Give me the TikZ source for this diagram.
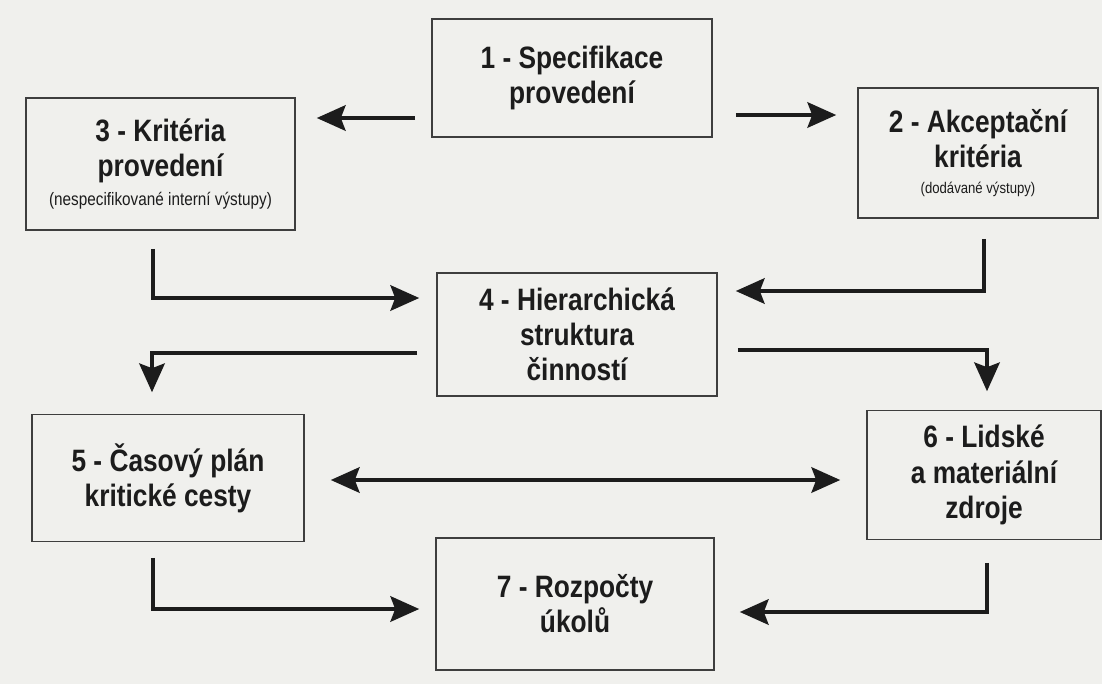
\documentclass[tikz,border=0pt]{standalone}
\usepackage{fontspec}
\setmainfont{Liberation Sans}[FakeStretch=0.85]
\usepackage{tikz}
\usetikzlibrary{calc}
\usetikzlibrary{arrows.meta, positioning}
\definecolor{paper}{RGB}{240,240,237}
\definecolor{ink}{RGB}{28,28,28}
\newcommand{\subnote}[2][11]{{\mdseries\fontsize{#1}{#1}\selectfont #2}}
\tikzset{>={Stealth[length=0.72cm,width=0.64cm,inset=0.12cm]}}
\tikzset{
  stage/.style={draw=ink!85, line width=1.1pt, fill=paper, text=ink, align=center,
    font=\bfseries\fontsize{22}{25}\selectfont, inner sep=2pt},
  flow/.style={->, draw=ink, line width=2.2pt}
}

\begin{document}
\begin{tikzpicture}[x=0.025cm,y=-0.025cm]
  \fill[paper] (0,0) rectangle (1102,684);
  \useasboundingbox (0,0) rectangle (1102,684);
  \node[stage, minimum width=7cm, minimum height=2.95cm] (n1) at (572,78)
    {1 - Specifikace\\provedení};
  \node[stage, minimum width=6cm, minimum height=3.25cm] (n2) at (978,153)
    {2 - Akceptační\\kritéria\\[-7pt]\subnote[11]{(dodávané výstupy)}};
  \node[stage, minimum width=6.725cm, minimum height=3.3cm] (n3) at (160.5,164)
    {3 - Kritéria\\provedení\\[-4pt]\subnote[12.8]{(nespecifikované interní výstupy)}};
  \node[stage, minimum width=7cm, minimum height=3.075cm] (n4) at (577,334.5)
    {4 - Hierarchická\\struktura\\činností};
  \node[stage, minimum width=6.8cm, minimum height=3.175cm] (n5) at (168,478)
    {5 - Časový plán\\kritické cesty};
  \node[stage, minimum width=5.85cm, minimum height=3.225cm] (n6) at (984,475)
    {6 - Lidské\\a materiální\\zdroje};
  \node[stage, minimum width=6.95cm, minimum height=3.3cm] (n7) at (575,604)
    {7 - Rozpočty\\úkolů};

  \draw[flow] ($(n1.west)+(-16,40)$) -- ($(n3.east)+(21,-46)$);
  \draw[flow] ($(n1.east)+(23,37)$) -- ($(n2.west)+(-21,-38)$);
  \draw[flow] ($(n3.south)+(-7.5,18)$) |- ($(n4.west)+(-17,-36.5)$);
  \draw[flow] ($(n2.south)+(6,20)$) |- ($(n4.east)+(18,-43.5)$);
  \draw[flow] ($(n4.west)+(-19,18.5)$) -| ($(n5.north)+(-16,-21.5)$);
  \draw[flow] ($(n4.east)+(20,15.5)$) -| ($(n6.north)+(3,-18.5)$);
  \draw[flow, <->] ($(n5.east)+(26,2)$) -- ($(n6.west)+(-26,5)$);
  \draw[flow] ($(n5.south)+(-15,15.5)$) |- ($(n7.west)+(-16,5)$);
  \draw[flow] ($(n6.south)+(3,22.5)$) |- ($(n7.east)+(25,8)$);
\end{tikzpicture}
\end{document}
